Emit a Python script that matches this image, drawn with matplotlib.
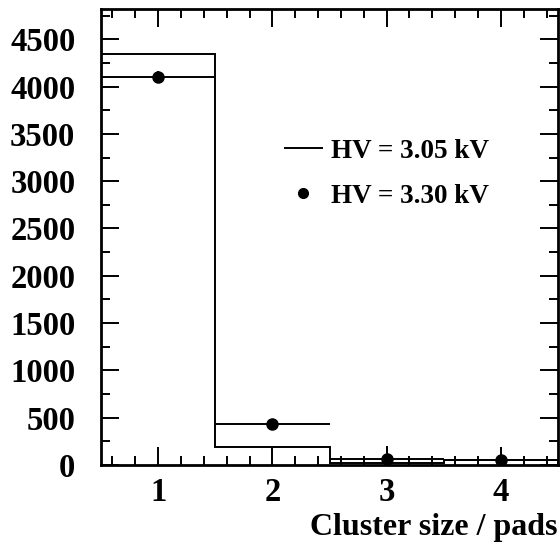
import numpy as np
import matplotlib
matplotlib.use('Agg')
import matplotlib.pyplot as plt
from matplotlib.ticker import MultipleLocator
from matplotlib.lines import Line2D

plt.rcParams['font.family'] = ['Liberation Serif', 'DejaVu Serif']
plt.rcParams['font.weight'] = 'bold'

# Cluster size bins
cluster_size = [1, 2, 3, 4]
bin_edges = [0.5, 1.5, 2.5, 3.5, 4.5]

# HV = 3.05 kV (histogram)
counts_305 = [4345, 190, 25, 48]

# HV = 3.30 kV (points with errors)
counts_330 = [4100, 433, 62, 52]
errors_330 = [60, 20, 140, 140]

fig = plt.figure(figsize=(5.6, 5.48), dpi=100)
ax = fig.add_axes([0.1804, 0.1515, 0.816, 0.832])

ax.stairs(counts_305, bin_edges, baseline=0, color='black', linewidth=1.4)
ax.errorbar(cluster_size, counts_330, xerr=0.5, yerr=errors_330, fmt='o',
            color='black', ms=8, elinewidth=1.4, capsize=0)

ax.set_xlim(0.5, 4.5)
ax.set_ylim(0, 4820)
ax.xaxis.set_major_locator(MultipleLocator(1))
ax.xaxis.set_minor_locator(MultipleLocator(0.2))
ax.yaxis.set_major_locator(MultipleLocator(500))
ax.yaxis.set_minor_locator(MultipleLocator(250))

ax.tick_params(which='both', direction='in', top=True, right=True,
               width=1.4, labelsize=23.5)
ax.tick_params(which='major', length=13)
ax.tick_params(which='minor', length=6.5)
ax.tick_params(axis='y', pad=18.5)
ax.tick_params(axis='x', pad=9)
for s in ax.spines.values():
    s.set_linewidth(2)

ax.set_xlabel('Cluster size / pads', fontsize=23, fontweight='bold')
ax.xaxis.set_label_coords(1.0, -0.106)
ax.xaxis.label.set_horizontalalignment('right')

handles = [Line2D([], [], color='black', linewidth=1.4),
           Line2D([], [], color='black', marker='o', ms=7, linestyle='none')]
labels = ['HV = 3.05 kV', 'HV = 3.30 kV']
ax.legend(handles, labels, loc='upper left', bbox_to_anchor=(0.4026, 0.716),
          frameon=False, fontsize=19.5, handlelength=1.36, handletextpad=0.33,
          labelspacing=0.75, borderpad=0, borderaxespad=0)

fig.savefig('out.png', dpi=100)
